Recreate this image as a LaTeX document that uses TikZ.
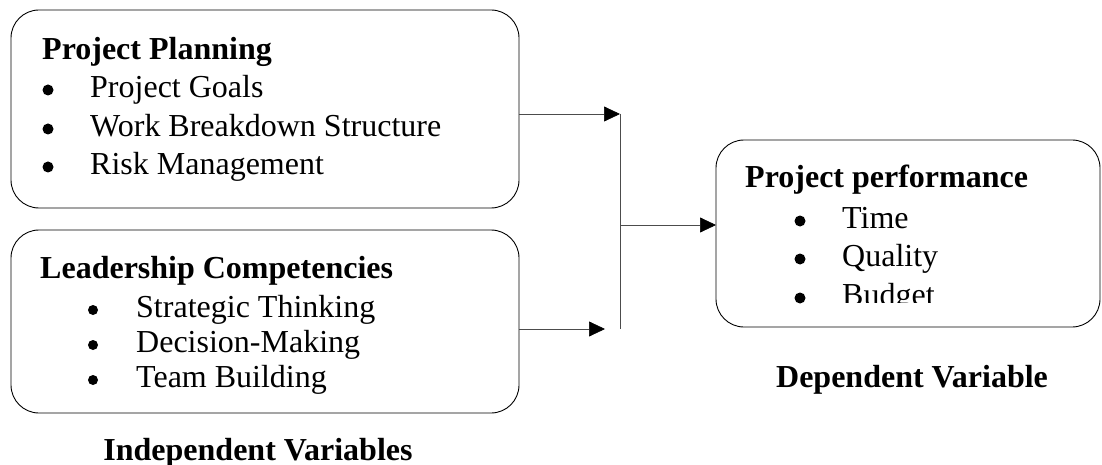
\documentclass[tikz,border=0pt]{standalone}
\usepackage{fontspec}
\setmainfont{Liberation Serif}
\usetikzlibrary{arrows.meta}

\begin{document}
\begin{tikzpicture}
  [x=1pt, y=-1pt]
  \tikzstyle{box} = [draw=black, line width=0.9pt, rounded corners=28pt, inner sep=0pt, outer sep=0pt];
  \tikzstyle{boxtitle} = [anchor=base west, inner sep=0pt, font=\fontsize{32}{38}\selectfont\bfseries];
  \tikzstyle{entry} = [anchor=base west, inner sep=0pt, font=\fontsize{32}{38}\selectfont];
  \tikzstyle{bulletdot} = [circle, fill=black, inner sep=0pt, minimum size=11pt];
  \tikzstyle{link} = [draw=black!70, line width=0.7pt];
  \tikzstyle{arrowline} = [link, -{Triangle[length=16pt, width=15pt, color=black]}];

  \useasboundingbox (0, 0) rectangle (1102, 465);

  \node[box, minimum width=508pt, minimum height=198pt] (plan) at (265, 109) {};
  \node[box, minimum width=508pt, minimum height=183pt] (lead) at (265, 321.5) {};
  \node[box, minimum width=384pt, minimum height=187pt] (perf) at (908, 233.5) {};

  \node[boxtitle] (plantitle) at (42, 60) {Project Planning};
  \foreach \y/\t [count=\i] in {98/Project Goals, 137/Work Breakdown Structure, 175/Risk Management} {
    \node[bulletdot] (plandot\i) at (48, \y-8) {};
    \node[entry] (planitem\i) at (90, \y) {\t};
  }

  \node[boxtitle] (leadtitle) at (40, 278) {Leadership Competencies};
  \foreach \y/\t [count=\i] in {317/Strategic Thinking, 352/Decision-Making, 387/Team Building} {
    \node[bulletdot, minimum size=10pt] (leaddot\i) at (93, \y-7) {};
    \node[entry] (leaditem\i) at (136, \y) {\t};
  }

  \node[boxtitle] (perftitle) at (745, 188) {Project performance};
  \foreach \y/\t [count=\i] in {228/Time, 266/Quality} {
    \node[bulletdot] (perfdot\i) at (800, \y-7) {};
    \node[entry] (perfitem\i) at (842, \y) {\t};
  }
  \node[bulletdot] (perfdot3) at (800, 298) {};
  \begin{scope}
    \clip (830, 270) rectangle (960, 302);
    \node[entry] (perfitem3) at (842, 305) {Budget};
  \end{scope}

  \node[boxtitle, anchor=base] (indep) at (258, 460) {Independent Variables};
  \node[boxtitle, anchor=base] (dep) at (912, 387) {Dependent Variable};

  % connectors
  \coordinate (jtop) at (620, 114);
  \coordinate (jmid) at (620, 225);
  \coordinate (jbot) at (620, 329);
  \coordinate (tip) at (605, 329);

  \draw[arrowline] (plan.east |- jtop) -- (jtop);
  \draw[link] (jtop) -- (jbot);
  \draw[arrowline] (jmid) -- (perf.west |- jmid);
  \draw[arrowline] (lead.east |- jbot) -- (tip);

\end{tikzpicture}
\end{document}
